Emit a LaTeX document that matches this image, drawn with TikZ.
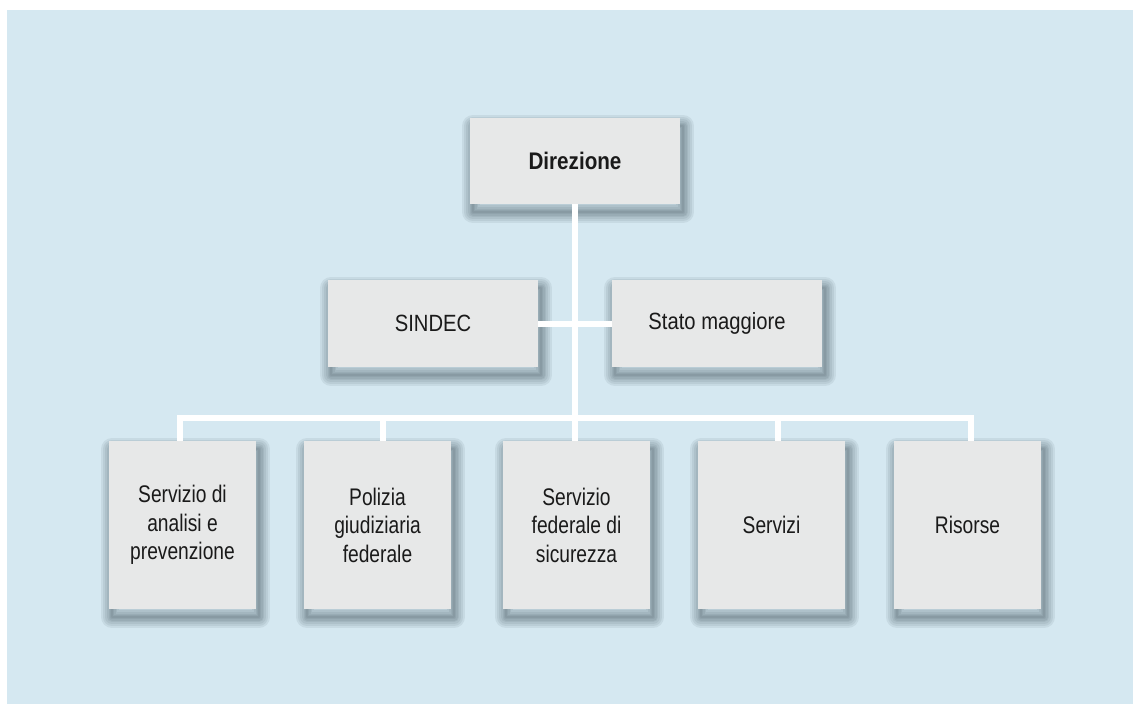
\documentclass[tikz,border=0pt]{standalone}
\usepackage{fontspec}
\setmainfont{Liberation Sans}[FakeStretch=0.8]
\newfontfamily\headfont{Liberation Sans}[FakeStretch=0.86]
\newfontfamily\midfont{Liberation Sans}[FakeStretch=0.86]
\definecolor{bgblue}{HTML}{D5E8F1}
\definecolor{boxgray}{HTML}{E7E8E8}
\definecolor{txt}{HTML}{1A1A1A}
\definecolor{shad}{HTML}{2A3A44}
\tikzset{
  sh/.style={preaction={draw=shad, draw opacity=0.08, line width=#1, line join=round,
      transform canvas={shift={(3pt,-8pt)}}}},
  softshadow/.style={sh=22pt, sh=18pt, sh=14pt, sh=10pt, sh=7pt, sh=4pt, sh=2pt},
  box/.style={softshadow, fill=boxgray, draw=none, text=txt, align=center, inner sep=0pt,
    font=\fontsize{24}{28.5}\selectfont},
  topbox/.style={box, minimum width=210pt, minimum height=86pt},
  midbox/.style={box, minimum width=210pt, minimum height=87pt,
    font=\midfont\fontsize{23.5}{28.5}\selectfont},
  lowbox/.style={box, minimum width=147pt, minimum height=168pt},
  conn/.style={draw=white, line width=6pt, line join=miter}
}
\begin{document}
\begin{tikzpicture}[x=1pt,y=-1pt]
\useasboundingbox (0,0) rectangle (1133,704);
\fill[white] (0,0) rectangle (1133,704);
\fill[bgblue] (7,10) rectangle (1133,704);

\node[topbox, font=\headfont\bfseries\fontsize{24}{28}\selectfont] (dir) at (575,161) {Direzione};
\node[midbox] (sindec) at (433,323.5) {SINDEC};
\node[midbox] (stato) at (717,323.5) {Stato maggiore};

\node[lowbox] (b1) at (182.5,525) {Servizio di\\analisi e\\prevenzione};
\node[lowbox] (b2) at (377.5,525) {Polizia\\giudiziaria\\federale};
\node[lowbox] (b3) at (576.5,525) {Servizio\\federale di\\sicurezza};
\node[lowbox] (b4) at (771.5,525) {Servizi};
\node[lowbox] (b5) at (967.5,525) {Risorse};

\coordinate (bus) at (575,418);
\coordinate (s1) at (180,418);
\coordinate (s2) at (383,418);
\coordinate (s3) at (575,418);
\coordinate (s4) at (778,418);
\coordinate (s5) at (971,418);

\draw[conn] (dir.south) -- (bus);
\draw[conn] (sindec.east) -- (stato.west);
\draw[conn] (s1 |- b1.north) -- (s1) -- (s5) -- (s5 |- b5.north);
\draw[conn] (s2) -- (s2 |- b2.north);
\draw[conn] (s3) -- (s3 |- b3.north);
\draw[conn] (s4) -- (s4 |- b4.north);
\end{tikzpicture}
\end{document}
